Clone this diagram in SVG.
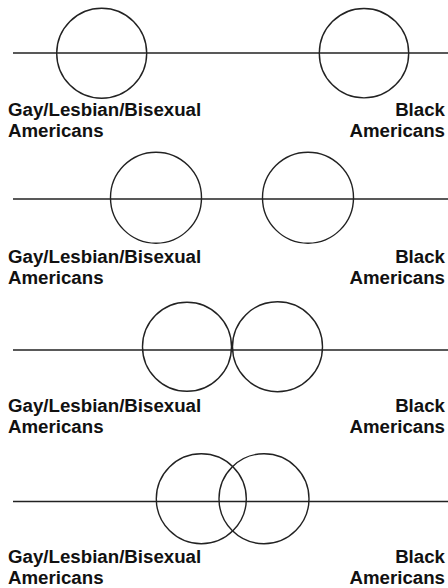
<svg xmlns="http://www.w3.org/2000/svg" width="448" height="588" viewBox="0 0 448 588">
<style>
.axis{stroke:#222;stroke-width:1.5;fill:none}
.c{stroke:#222;stroke-width:1.4;fill:none}
.t{font-family:"Liberation Sans",Arial,sans-serif;font-weight:bold;font-size:18.7px;fill:#111}
.r{text-anchor:end}
</style>
<rect width="448" height="588" fill="#fff"/>
<g id="connectors">
<line class="axis" x1="13" y1="53" x2="448" y2="53"/>
<line class="axis" x1="13" y1="199" x2="448" y2="199"/>
<line class="axis" x1="13" y1="350" x2="448" y2="350"/>
<line class="axis" x1="13" y1="501.5" x2="448" y2="501.5"/>
</g>
<g id="panel1">
<circle id="p1-glb" class="c" cx="101.7" cy="53.2" r="45"/>
<circle id="p1-black" class="c" cx="364" cy="53.2" r="44.7"/>
<text class="t" x="8" y="116">Gay/Lesbian/Bisexual</text>
<text class="t" x="8" y="137">Americans</text>
<text class="t r" x="445" y="116">Black</text>
<text class="t r" x="445" y="137">Americans</text>
</g>
<g id="panel2">
<circle id="p2-glb" class="c" cx="156" cy="197.7" r="45.5"/>
<circle id="p2-black" class="c" cx="308" cy="197.7" r="45.5"/>
<text class="t" x="8" y="263">Gay/Lesbian/Bisexual</text>
<text class="t" x="8" y="284">Americans</text>
<text class="t r" x="445" y="263">Black</text>
<text class="t r" x="445" y="284">Americans</text>
</g>
<g id="panel3">
<circle id="p3-glb" class="c" cx="187" cy="346.7" r="44.5"/>
<circle id="p3-black" class="c" cx="277.5" cy="346.7" r="45"/>
<text class="t" x="8" y="412">Gay/Lesbian/Bisexual</text>
<text class="t" x="8" y="433">Americans</text>
<text class="t r" x="445" y="412">Black</text>
<text class="t r" x="445" y="433">Americans</text>
</g>
<g id="panel4">
<circle id="p4-glb" class="c" cx="201.3" cy="498.7" r="45"/>
<circle id="p4-black" class="c" cx="264" cy="498.7" r="45"/>
<text class="t" x="8" y="563">Gay/Lesbian/Bisexual</text>
<text class="t" x="8" y="584">Americans</text>
<text class="t r" x="445" y="563">Black</text>
<text class="t r" x="445" y="584">Americans</text>
</g>
</svg>
